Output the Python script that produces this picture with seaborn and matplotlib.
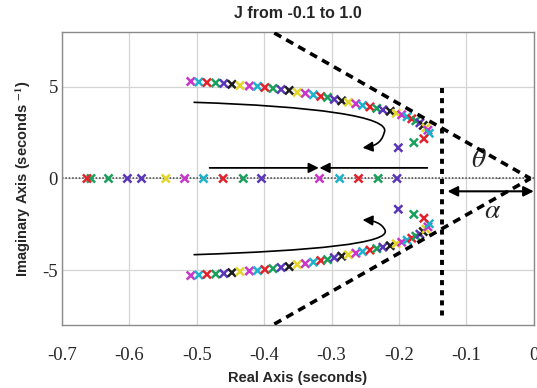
import numpy as np
import pandas as pd
import matplotlib.pyplot as plt
from matplotlib.path import Path
from matplotlib.patches import FancyArrowPatch, Arc
import seaborn as sns

# MATLAB-like colour codes used for the pole markers
COLOR_CODES = {
    "m": "#c835c8", "c": "#1cb2cc", "r": "#e3212b", "g": "#18a05c",
    "b": "#5a36b8", "k": "#1e1e1e", "y": "#e2d62a",
}

# complex-pole branch (upper half, lower half is its conjugate)
UPPER_RE = [-0.509, -0.497, -0.485, -0.472, -0.460, -0.448, -0.436, -0.422,
            -0.410, -0.399, -0.387, -0.375, -0.363, -0.351, -0.339, -0.327,
            -0.316, -0.306, -0.296, -0.285, -0.275, -0.264, -0.254, -0.243,
            -0.233, -0.224, -0.213, -0.204, -0.196, -0.188, -0.181, -0.175,
            -0.169, -0.164, -0.160, -0.157, -0.155, -0.163, -0.178, -0.201]
UPPER_IM = [5.30, 5.27, 5.24, 5.22, 5.19, 5.14, 5.08, 5.05,
            5.03, 4.97, 4.92, 4.86, 4.81, 4.70, 4.65, 4.57,
            4.48, 4.43, 4.32, 4.24, 4.16, 4.08, 3.99, 3.91,
            3.83, 3.75, 3.67, 3.56, 3.48, 3.37, 3.26, 3.15,
            3.04, 2.90, 2.77, 2.64, 2.47, 2.17, 1.96, 1.68]
UPPER_COLORS = list("mcrgbkymcrgbkymcrgbkymcrgbkymcrgbkymcm")[:37] + ["r", "g", "b"]

# real-axis poles
REAL_RE = [-0.657, -0.663, -0.631, -0.603, -0.582, -0.546, -0.518, -0.490,
           -0.461, -0.431, -0.404, -0.318, -0.288, -0.260, -0.231, -0.203]
REAL_COLORS = ["g", "r", "g", "b", "b", "y", "m", "c",
               "r", "g", "b", "m", "c", "r", "g", "b"]

# stability-region guide lines
APEX = (-0.005, 0.0)
CONE_END = (-0.385, 7.95)
DAMP_X = -0.136
DAMP_Y = (4.95, -7.6)

X_TICKS = [-0.7, -0.6, -0.5, -0.4, -0.3, -0.2, -0.1, 0]
X_TICK_LABELS = ["-0.7", "-0.6", "-0.5", "-0.4", "-0.3", "-0.2", "-0.1", "0"]
Y_TICKS = [-5, 0, 5]
Y_TICK_LABELS = ["-5", "0", "5"]

sns.set_style("whitegrid")
plt.rcParams["font.family"] = ["Liberation Sans", "DejaVu Sans"]
plt.rcParams["mathtext.fontset"] = "stix"

df = pd.concat([
    pd.DataFrame({"re": UPPER_RE, "im": UPPER_IM, "col": UPPER_COLORS}),
    pd.DataFrame({"re": UPPER_RE, "im": [-v for v in UPPER_IM], "col": UPPER_COLORS}),
    pd.DataFrame({"re": REAL_RE, "im": [0.0] * len(REAL_RE), "col": REAL_COLORS}),
], ignore_index=True)

fig = plt.figure(figsize=(5.37, 3.88), dpi=100)
ax = fig.add_axes([0.1155, 0.1624, 0.8785, 0.7551])

# zero line
ax.axhline(0, color="#444444", linestyle=(0, (1, 1.2)), linewidth=1.1, zorder=1)

sns.scatterplot(data=df, x="re", y="im", hue="col", palette=COLOR_CODES,
                marker="x", s=34, linewidth=1.8, legend=False, ax=ax, zorder=3)

# cone lines and damping line
dash = dict(color="black", linewidth=2.6, linestyle=(0, (2.2, 1.6)), zorder=4)
ax.plot([CONE_END[0], APEX[0]], [CONE_END[1], APEX[1]], **dash)
ax.plot([CONE_END[0], APEX[0]], [-CONE_END[1], APEX[1]], **dash)
ax.plot([DAMP_X, DAMP_X], list(DAMP_Y), color="black", linewidth=2.8,
        linestyle=(0, (1.3, 1.3)), zorder=4)

# curved direction arrows
upper_path = Path(
    [(-0.504, 4.16), (-0.33, 3.95), (-0.21, 3.4), (-0.222, 2.5),
     (-0.226, 1.95), (-0.236, 1.75), (-0.254, 1.68)],
    [Path.MOVETO, Path.CURVE4, Path.CURVE4, Path.CURVE4,
     Path.CURVE4, Path.CURVE4, Path.CURVE4])
lower_path = Path(
    [(-0.504, -4.16), (-0.33, -3.95), (-0.21, -3.55), (-0.221, -2.8),
     (-0.226, -2.45), (-0.236, -2.3), (-0.254, -2.26)],
    [Path.MOVETO, Path.CURVE4, Path.CURVE4, Path.CURVE4,
     Path.CURVE4, Path.CURVE4, Path.CURVE4])
for p in (upper_path, lower_path):
    ax.add_patch(FancyArrowPatch(path=p, arrowstyle="-|>", mutation_scale=15,
                                 color="black", linewidth=1.2, zorder=5))

# straight arrows on real axis
ax.annotate("", xy=(-0.319, 0.58), xytext=(-0.481, 0.58),
            arrowprops=dict(arrowstyle="-|>", color="black", lw=1.3,
                            mutation_scale=15, shrinkA=0, shrinkB=0))
ax.annotate("", xy=(-0.318, 0.58), xytext=(-0.158, 0.58),
            arrowprops=dict(arrowstyle="-|>", color="black", lw=1.3,
                            mutation_scale=15, shrinkA=0, shrinkB=0))

# alpha double arrow
ax.annotate("", xy=(-0.128, -0.7), xytext=(0.0, -0.7),
            arrowprops=dict(arrowstyle="<|-|>", color="black", lw=1.5,
                            mutation_scale=15, shrinkA=0, shrinkB=0))

# theta arc and labels
ax.add_patch(Arc(APEX, width=0.095, height=3.45, theta1=150, theta2=180,
                 color="black", linewidth=1.4, zorder=5))
ax.text(-0.082, 1.0, r"$\theta$", fontsize=20, ha="center", va="center")
ax.text(-0.061, -1.8, r"$\alpha$", fontsize=20, ha="center", va="center")

ax.set_xlim(-0.7, 0)
ax.set_ylim(-8, 8)
ax.set_xticks(X_TICKS)
ax.set_xticklabels(X_TICK_LABELS, family="Liberation Serif", fontsize=13.5)
ax.set_yticks(Y_TICKS)
ax.set_yticklabels(Y_TICK_LABELS, family="Liberation Serif", fontsize=13.5)
ax.tick_params(axis="x", length=0, pad=16)
ax.tick_params(axis="y", length=0, pad=3)
ax.grid(True, color="#d4d4d4", linewidth=0.9)
for s in ax.spines.values():
    s.set_color("#8a8a8a")
    s.set_linewidth(1.0)

ax.set_xlabel("Real Axis (seconds)", fontsize=10.5, fontweight="bold", labelpad=5)
ax.set_ylabel(r"Imaginary Axis (seconds $^{\mathbf{-1}}$)", fontsize=10.5,
              fontweight="bold", labelpad=7)
ax.set_title("J from -0.1 to 1.0", fontsize=11.5, fontweight="bold", pad=10)

fig.savefig("out.png", dpi=100)
